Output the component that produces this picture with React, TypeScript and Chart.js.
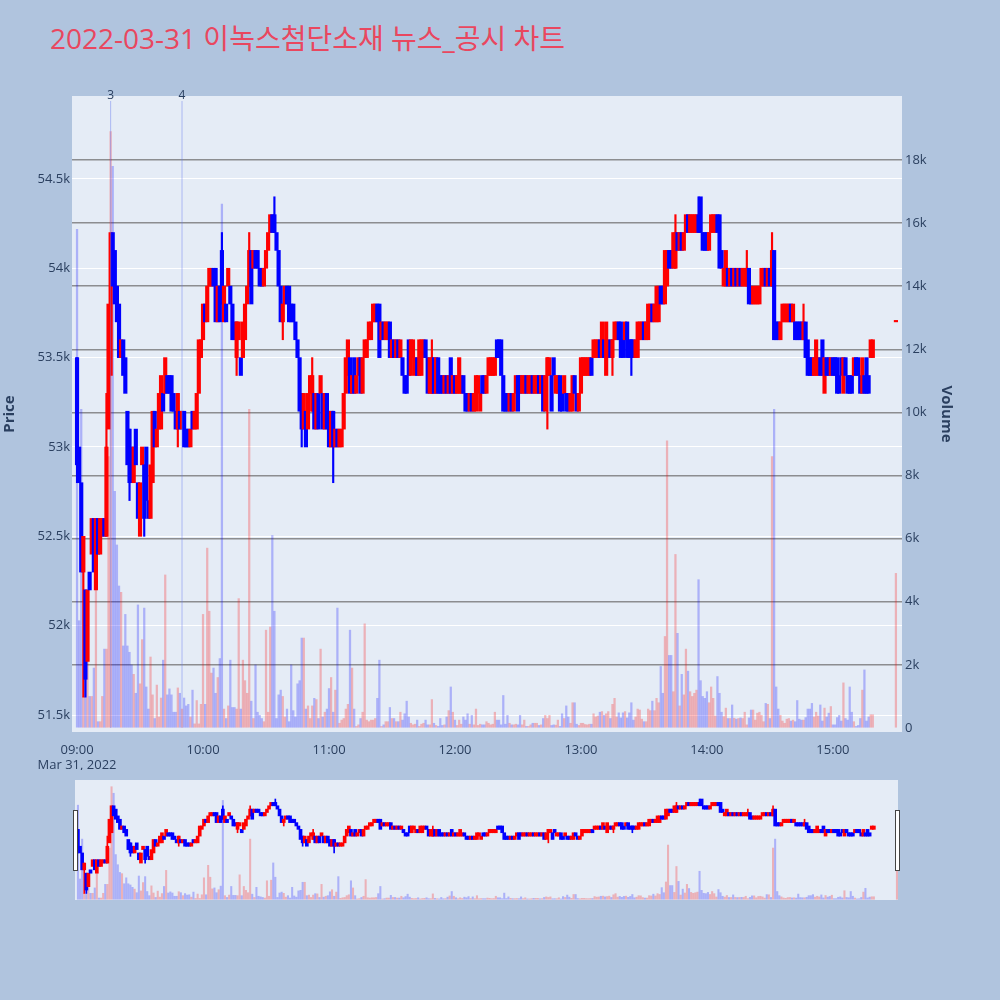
import { useEffect, useRef } from 'react';
import { Chart, registerables } from 'chart.js';

Chart.register(...registerables);

const TITLE = '2022-03-31 이녹스첨단소재 뉴스_공시 차트';
const DATE_LABEL = 'Mar 31, 2022';

// x values are minutes after 09:00
const HOUR_TICKS = [0, 60, 120, 180, 240, 300, 360];
const PRICE_TICKS = [51500, 52000, 52500, 53000, 53500, 54000, 54500];
const VOLUME_TICKS = [0, 2000, 4000, 6000, 8000, 10000, 12000, 14000, 16000, 18000];

// continuous session 09:00-15:19, then the closing auction at 15:30
const MINUTES = [...Array(380).keys(), 390];

// prices in units of 100 KRW
const OPEN = [
  535, 530, 528, 523, 522, 518, 523, 524, 526, 522,
  526, 524, 525, 526, 525, 531, 534, 542, 541, 539,
  538, 535, 536, 535, 532, 531, 530, 528, 531, 528,
  525, 529, 529, 530, 527, 526, 528, 532, 530, 531,
  531, 533, 533, 534, 534, 534, 533, 532, 531, 532,
  531, 532, 531, 531, 530, 532, 531, 531, 533, 535,
  536, 538, 537, 539, 539, 540, 540, 537, 539, 541,
  537, 538, 539, 539, 538, 537, 535, 536, 535, 535,
  536, 538, 539, 541, 540, 541, 541, 540, 540, 539,
  540, 541, 542, 543, 543, 542, 541, 539, 537, 538,
  539, 539, 538, 538, 537, 536, 535, 533, 531, 532,
  531, 533, 532, 533, 531, 533, 533, 533, 531, 533,
  532, 530, 532, 530, 531, 530, 530, 531, 533, 534,
  535, 533, 535, 533, 534, 535, 533, 535, 535, 536,
  536, 537, 537, 538, 538, 536, 537, 536, 536, 537,
  535, 536, 535, 536, 535, 535, 534, 534, 536, 534,
  535, 534, 535, 534, 534, 535, 536, 535, 533, 533,
  535, 533, 535, 534, 534, 533, 534, 533, 535, 533,
  534, 533, 533, 533, 534, 533, 533, 532, 533, 532,
  532, 533, 532, 534, 534, 533, 534, 534, 534, 534,
  536, 536, 536, 534, 533, 533, 532, 533, 532, 533,
  534, 534, 533, 533, 534, 533, 533, 534, 533, 533,
  534, 533, 534, 532, 534, 534, 534, 535, 533, 533,
  534, 533, 533, 533, 533, 532, 532, 534, 533, 532,
  533, 534, 534, 534, 534, 535, 535, 535, 535, 536,
  535, 536, 534, 535, 536, 535, 536, 536, 537, 537,
  536, 536, 537, 536, 536, 536, 535, 535, 536, 536,
  537, 536, 536, 537, 538, 537, 537, 537, 539, 539,
  538, 539, 541, 541, 540, 540, 542, 541, 542, 541,
  542, 543, 542, 542, 542, 542, 543, 544, 542, 542,
  542, 541, 542, 542, 542, 543, 543, 541, 539, 539,
  540, 539, 540, 539, 540, 539, 540, 539, 539, 539,
  540, 539, 538, 538, 538, 538, 539, 539, 540, 539,
  540, 539, 541, 537, 537, 536, 537, 537, 537, 537,
  538, 537, 537, 537, 537, 537, 536, 537, 536, 535,
  535, 534, 534, 534, 535, 536, 533, 535, 535, 534,
  535, 535, 535, 534, 535, 533, 535, 534, 534, 534,
  534, 535, 535, 534, 533, 534, 535, 534, 535, 535,
  537,
];

const CLOSE = [
  529, 528, 523, 525, 517, 522, 522, 526, 523, 526,
  524, 526, 526, 525, 530, 538, 542, 539, 538, 537,
  535, 536, 534, 533, 529, 528, 528, 530, 529, 526,
  528, 530, 526, 527, 526, 529, 532, 530, 531, 533,
  534, 532, 535, 533, 533, 532, 532, 531, 533, 531,
  532, 530, 530, 530, 531, 531, 532, 533, 536, 536,
  538, 537, 539, 540, 540, 539, 537, 539, 537, 538,
  539, 537, 540, 538, 536, 536, 537, 537, 534, 537,
  538, 539, 541, 538, 541, 540, 540, 539, 539, 540,
  541, 542, 543, 542, 542, 541, 539, 537, 538, 539,
  538, 537, 537, 537, 536, 535, 532, 531, 533, 530,
  533, 534, 534, 531, 533, 531, 534, 531, 533, 531,
  530, 532, 530, 531, 530, 531, 531, 533, 535, 536,
  533, 534, 533, 534, 535, 533, 535, 536, 536, 537,
  537, 538, 538, 537, 535, 537, 536, 537, 537, 535,
  536, 535, 536, 535, 536, 534, 533, 533, 534, 536,
  536, 535, 534, 536, 536, 536, 535, 533, 535, 535,
  533, 535, 533, 533, 533, 534, 533, 534, 533, 534,
  533, 534, 535, 534, 533, 532, 532, 533, 532, 533,
  534, 534, 533, 533, 533, 534, 535, 535, 535, 535,
  535, 535, 534, 532, 532, 532, 533, 532, 533, 534,
  532, 533, 534, 534, 533, 534, 534, 533, 534, 534,
  533, 534, 532, 534, 535, 535, 532, 534, 534, 534,
  532, 532, 534, 532, 532, 533, 534, 533, 532, 533,
  535, 535, 535, 535, 535, 534, 536, 536, 536, 535,
  537, 535, 537, 536, 535, 536, 537, 537, 536, 535,
  535, 537, 535, 535, 535, 535, 536, 537, 537, 537,
  536, 537, 538, 538, 537, 538, 539, 539, 538, 538,
  541, 541, 540, 540, 542, 542, 541, 542, 541, 542,
  543, 542, 543, 543, 543, 543, 542, 542, 541, 541,
  541, 542, 543, 543, 543, 542, 540, 540, 540, 541,
  539, 540, 539, 540, 539, 540, 539, 540, 540, 540,
  538, 538, 539, 539, 539, 539, 540, 540, 539, 540,
  539, 541, 536, 536, 536, 537, 538, 538, 538, 538,
  537, 538, 536, 536, 536, 536, 537, 535, 534, 534,
  534, 535, 536, 535, 534, 534, 535, 534, 534, 535,
  534, 534, 533, 533, 534, 535, 534, 533, 533, 533,
  535, 534, 534, 533, 535, 533, 533, 533, 536, 536,
  537,
];

// [bar index, low, high] where the wick reaches past the body
const WICKS: [number, number, number][] = [
  [0, 528, 535], [3, 516, 525], [4, 516, 522], [14, 525, 533], [25, 527, 531],
  [32, 525, 529], [48, 530, 533], [69, 538, 542], [76, 534, 537], [82, 539, 542],
  [94, 542, 544], [98, 536, 538], [107, 530, 533], [112, 532, 535], [122, 528, 532],
  [169, 533, 536], [224, 531, 535], [255, 534, 536], [264, 534, 536], [285, 540, 543],
  [296, 542, 544], [319, 539, 541], [331, 539, 542], [346, 536, 538],
];

const VOLUME = [
  15800, 3400, 10100, 1000, 1700, 2300, 1000, 1000, 1900, 4500,
  200, 200, 1000, 2500, 2500, 8600, 18900, 17800, 7500, 5800,
  4500, 4300, 2600, 3600, 2600, 2400, 2000, 1700, 1100, 3900,
  1400, 2800, 3800, 1300, 600, 2250, 1050, 300, 1360, 350,
  950, 2150, 4850, 1050, 1240, 1050, 500, 500, 1270, 1100,
  600, 950, 700, 750, 350, 1200, 130, 870, 130, 750,
  3600, 750, 5700, 3700, 1740, 1900, 1100, 1600, 2200, 16600,
  600, 300, 700, 2150, 650, 650, 600, 4100, 600, 2150,
  1500, 1100, 10100, 850, 300, 2000, 500, 400, 300, 200,
  3100, 500, 3200, 6100, 3700, 300, 1050, 1200, 1000, 350,
  600, 200, 2000, 550, 350, 1400, 1500, 2850, 2850, 600,
  700, 300, 700, 940, 900, 300, 2500, 350, 500, 600,
  1250, 1600, 500, 1200, 3800, 150, 250, 300, 600, 750,
  3100, 1900, 600, 50, 100, 300, 500, 3300, 250, 200,
  250, 250, 300, 940, 2150, 50, 100, 200, 200, 650,
  300, 300, 200, 200, 500, 250, 450, 850, 350, 150,
  100, 120, 250, 50, 120, 150, 250, 100, 100, 900,
  150, 80, 50, 300, 80, 100, 350, 550, 1300, 500,
  250, 80, 250, 120, 350, 250, 450, 120, 400, 100,
  600, 80, 120, 100, 100, 200, 150, 100, 120, 500,
  250, 250, 100, 1030, 120, 400, 150, 100, 100, 120,
  100, 400, 100, 250, 50, 50, 100, 150, 150, 150,
  80, 100, 300, 400, 300, 400, 80, 100, 90, 250,
  50, 450, 300, 700, 350, 150, 800, 800, 120, 80,
  150, 150, 110, 100, 120, 120, 450, 350, 380, 500,
  520, 400, 450, 520, 300, 750, 940, 350, 480, 320,
  480, 520, 320, 480, 800, 250, 350, 600, 570, 280,
  200, 200, 600, 550, 850, 550, 940, 800, 1950, 1100,
  2900, 9100, 2300, 2300, 1150, 5500, 3000, 700, 1700, 1050,
  2500, 1800, 1150, 1000, 1100, 1200, 4700, 1500, 1000, 940,
  1150, 800, 1300, 940, 380, 1630, 1100, 500, 360, 630,
  300, 300, 730, 310, 280, 300, 320, 300, 500, 100,
  320, 570, 570, 250, 470, 500, 400, 200, 780, 750,
  300, 8600, 10100, 1300, 600, 400, 220, 150, 280, 300,
  220, 250, 200, 870, 280, 250, 250, 330, 600, 600,
  780, 350, 500, 380, 730, 220, 630, 350, 470, 680,
  100, 100, 330, 400, 220, 1430, 300, 250, 1300, 500,
  200, 50, 80, 300, 1200, 1840, 220, 350, 420, 420,
  4900,
];

// news / disclosure markers: [minute, label]
const NEWS: [number, string][] = [[16, '3'], [50, '4']];

const FONT = "'Open Sans', 'Noto Sans CJK KR', sans-serif";
const TEXT = '#2a3f5f';
const PLOT_BG = '#e5ecf6';
const UP = '#ff0000';
const DOWN = '#0000ff';
const VOL_UP = 'rgba(255, 0, 0, 0.25)';
const VOL_DOWN = 'rgba(0, 0, 255, 0.25)';

function hhmm(v: number) {
  const h = 9 + Math.floor(v / 60);
  const m = v % 60;
  return `${String(h).padStart(2, '0')}:${String(m).padStart(2, '0')}`;
}

function buildDatasets(bodyW: number, wickW: number, volW: number): any[] {
  const rising = OPEN.map((o, i) => CLOSE[i] >= o);
  return [
    {
      label: 'candle',
      data: MINUTES.map((m, i) => ({ x: m, y: [OPEN[i] * 100, CLOSE[i] * 100] })),
      backgroundColor: MINUTES.map((_, i) => (rising[i] ? UP : DOWN)),
      barThickness: bodyW,
      minBarLength: 1.5,
      yAxisID: 'y',
      order: 1,
    },
    {
      label: 'wick',
      data: WICKS.map(([i, lo, hi]) => ({ x: MINUTES[i], y: [lo * 100, hi * 100] })),
      backgroundColor: WICKS.map(([i]) => (rising[i] ? UP : DOWN)),
      barThickness: wickW,
      yAxisID: 'y',
      order: 2,
    },
    {
      label: 'volume',
      data: MINUTES.map((m, i) => ({ x: m, y: VOLUME[i] })),
      backgroundColor: MINUTES.map((_, i) => (rising[i] ? VOL_UP : VOL_DOWN)),
      barThickness: volW,
      yAxisID: 'y2',
      order: 3,
    },
  ];
}

const plotBackground = {
  id: 'plotBackground',
  beforeDraw(chart: any) {
    const { ctx, chartArea: a } = chart;
    ctx.save();
    ctx.fillStyle = PLOT_BG;
    ctx.fillRect(a.left, a.top, a.width, a.height);
    ctx.restore();
  },
};

const newsMarkers = {
  id: 'newsMarkers',
  afterDatasetsDraw(chart: any) {
    const { ctx, chartArea: a, scales } = chart;
    ctx.save();
    NEWS.forEach(([minute, label]) => {
      const x = scales.x.getPixelForValue(minute);
      ctx.strokeStyle = 'rgba(100, 120, 240, 0.45)';
      ctx.lineWidth = 1;
      ctx.beginPath();
      ctx.moveTo(x, a.top + 5);
      ctx.lineTo(x, a.bottom - 4);
      ctx.stroke();
      ctx.fillStyle = TEXT;
      ctx.font = `12px ${FONT}`;
      ctx.textAlign = 'center';
      ctx.textBaseline = 'middle';
      ctx.fillText(label, x, a.top);
    });
    ctx.restore();
  },
};

function MainChart() {
  const ref = useRef<HTMLCanvasElement | null>(null);

  useEffect(() => {
    if (!ref.current) return;
    const tickFont = { family: FONT, size: 13 };
    const titleFont = { family: FONT, size: 15, weight: 'bold' as const };
    const chart = new Chart(ref.current, {
      type: 'bar',
      data: { datasets: buildDatasets(3.5, 1.5, 1.6) },
      plugins: [plotBackground, newsMarkers],
      options: {
        animation: false,
        responsive: false,
        events: [],
        layout: { padding: { top: 96, left: 0, right: 0, bottom: 0 } },
        plugins: { legend: { display: false }, tooltip: { enabled: false } },
        scales: {
          x: {
            type: 'linear',
            min: -2.4,
            max: 392.9,
            offset: false,
            stacked: true,
            grid: { display: false },
            border: { display: false },
            afterBuildTicks: (s: any) => {
              s.ticks = HOUR_TICKS.map((v) => ({ value: v }));
            },
            afterFit: (s: any) => {
              s.height = 38;
            },
            ticks: {
              autoSkip: false,
              maxRotation: 0,
              padding: 2,
              color: TEXT,
              font: tickFont,
              callback: (v: any) => (v === 0 ? [hhmm(v), DATE_LABEL] : hhmm(v)),
            },
          },
          y: {
            type: 'linear',
            position: 'left',
            min: 51405,
            max: 54964,
            stacked: false,
            grid: { color: '#ffffff', lineWidth: 1, drawTicks: false },
            border: { display: false },
            afterBuildTicks: (s: any) => {
              s.ticks = PRICE_TICKS.map((v) => ({ value: v }));
            },
            afterFit: (s: any) => {
              s.width = 72;
            },
            ticks: {
              padding: 2,
              color: TEXT,
              font: tickFont,
              callback: (v: any) => `${v / 1000}k`,
            },
            title: {
              display: true,
              text: 'Price',
              color: TEXT,
              font: titleFont,
              padding: { top: 1, bottom: 0 },
            },
          },
          y2: {
            type: 'linear',
            position: 'right',
            min: -127,
            max: 20028,
            stacked: false,
            grid: {
              color: (c: any) => (c.tick && c.tick.value === 0 ? 'rgba(0,0,0,0)' : 'rgba(110, 110, 110, 0.75)'),
              lineWidth: 1.5,
              drawTicks: false,
            },
            border: { display: false },
            afterBuildTicks: (s: any) => {
              s.ticks = VOLUME_TICKS.map((v) => ({ value: v }));
            },
            afterFit: (s: any) => {
              s.width = 98;
            },
            ticks: {
              padding: 3,
              color: TEXT,
              font: tickFont,
              callback: (v: any) => (v === 0 ? '0' : `${v / 1000}k`),
            },
            title: {
              display: true,
              text: 'Volume',
              color: TEXT,
              font: titleFont,
              padding: { top: 45, bottom: 0 },
            },
          },
        },
      } as any,
    });
    return () => {
      chart.destroy();
    };
  }, []);

  return (
    <canvas
      ref={ref}
      width={1000}
      height={770}
      style={{ position: 'absolute', left: 0, top: 0, width: 1000, height: 770 }}
    />
  );
}

function RangeSlider() {
  const ref = useRef<HTMLCanvasElement | null>(null);

  useEffect(() => {
    if (!ref.current) return;
    const chart = new Chart(ref.current, {
      type: 'bar',
      data: { datasets: buildDatasets(3, 1, 1.4) },
      plugins: [plotBackground],
      options: {
        animation: false,
        responsive: false,
        events: [],
        layout: { padding: 0 },
        plugins: { legend: { display: false }, tooltip: { enabled: false } },
        scales: {
          x: { type: 'linear', min: -1.4, max: 390.5, offset: false, stacked: true, display: false },
          y: { type: 'linear', min: 51405, max: 54964, stacked: false, display: false },
          y2: { type: 'linear', min: -127, max: 20028, stacked: false, display: false },
        },
      } as any,
    });
    return () => {
      chart.destroy();
    };
  }, []);

  const handle = (left: number) => (
    <div
      style={{
        position: 'absolute',
        left,
        top: 810,
        width: 3,
        height: 59,
        background: '#ffffff',
        border: '1px solid #444444',
      }}
    />
  );

  return (
    <>
      <canvas
        ref={ref}
        width={823}
        height={120}
        style={{ position: 'absolute', left: 75, top: 780, width: 823, height: 120 }}
      />
      {handle(73)}
      {handle(895)}
    </>
  );
}

export default function App() {
  return (
    <div
      style={{
        position: 'absolute',
        left: 0,
        top: 0,
        width: 1000,
        height: 1000,
        background: '#b0c4de',
        overflow: 'hidden',
      }}
    >
      <div
        style={{
          position: 'absolute',
          left: 50,
          top: 24,
          fontFamily: FONT,
          fontSize: 28,
          lineHeight: 1,
          color: '#e9475f',
          whiteSpace: 'nowrap',
        }}
      >
        {TITLE}
      </div>
      <MainChart />
      <RangeSlider />
    </div>
  );
}
